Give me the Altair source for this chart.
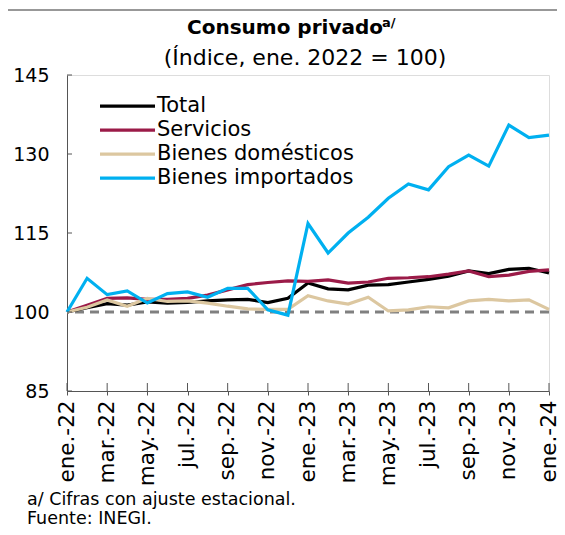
import altair as alt
import pandas as pd

months = ["ene.-22", "feb.-22", "mar.-22", "abr.-22", "may.-22", "jun.-22", "jul.-22", "ago.-22",
          "sep.-22", "oct.-22", "nov.-22", "dic.-22", "ene.-23", "feb.-23", "mar.-23", "abr.-23",
          "may.-23", "jun.-23", "jul.-23", "ago.-23", "sep.-23", "oct.-23", "nov.-23", "dic.-23",
          "ene.-24"]

total = [100, 100.8, 101.6, 101.3, 101.9, 101.7, 101.8, 102.1, 102.3, 102.4, 101.8, 102.6,
         105.5, 104.4, 104.2, 105.1, 105.2, 105.7, 106.2, 106.8, 107.8, 107.3, 108.1, 108.3, 107.4]
servicios = [100, 101.3, 102.6, 102.7, 102.4, 102.4, 102.6, 103.2, 104.2, 105.2, 105.6, 105.9,
             105.8, 106.1, 105.5, 105.7, 106.4, 106.5, 106.7, 107.2, 107.8, 106.7, 107.0, 107.7, 108.0]
domesticos = [100, 100.9, 102.3, 101.1, 102.6, 102.0, 102.1, 101.7, 101.1, 100.6, 100.5, 100.5,
              103.1, 102.1, 101.5, 102.8, 100.2, 100.4, 101.0, 100.8, 102.1, 102.4, 102.1, 102.3, 100.5]
importados = [100, 106.4, 103.3, 104.0, 101.7, 103.5, 103.8, 102.8, 104.5, 104.5, 100.4, 99.4,
              116.8, 111.2, 115.0, 118.0, 121.6, 124.3, 123.2, 127.6, 129.8, 127.7, 135.5, 133.1, 133.6]

series_names = ["Total", "Servicios", "Bienes domésticos", "Bienes importados"]
series_colors = ["#000000", "#9B1B48", "#DCC7A0", "#00B0F0"]
y_ticks = [85, 100, 115, 130, 145]
x_ticks = months[::2]
baseline = [100]

title_main = "Consumo privado"
title_sup = "a/"
subtitle = "(Índice, ene. 2022 = 100)"
notes = ["a/ Cifras con ajuste estacional.", "Fuente: INEGI."]

FONT = "DejaVu Sans"

rows = []
for name, vals in zip(series_names, [total, servicios, domesticos, importados]):
    for m, v in zip(months, vals):
        rows.append({"mes": m, "serie": name, "valor": v})
df = pd.DataFrame(rows)

W, H = 482, 316

xscale = alt.Scale(type="point", padding=0, domain=months)
yscale = alt.Scale(domain=[85, 145], nice=False, zero=False)
cscale = alt.Scale(domain=series_names, range=series_colors)

xaxis = alt.Axis(values=x_ticks, labelAngle=-90, labelFontSize=21.5, labelFont=FONT,
                 labelColor="#000", title=None, tickSize=4, tickColor="#555",
                 domainColor="#555", labelPadding=5, labelAlign="right",
                 labelBaseline="middle")
yaxis = alt.Axis(values=y_ticks, labelFontSize=19, labelFont=FONT, labelColor="#000",
                 title=None, tickSize=0, domainColor="#555", labelPadding=18, grid=False)

layers = []

# dashed 100 line
layers.append(
    alt.Chart(pd.DataFrame({"v": baseline})).mark_rule(
        color="#808080", strokeWidth=3, strokeDash=[9, 6]
    ).encode(y=alt.Y("v:Q", scale=yscale, axis=yaxis))
)

for s in series_names:
    layers.append(
        alt.Chart(df).mark_line(strokeWidth=3.2, clip=False)
        .transform_filter(alt.datum.serie == s)
        .encode(
            x=alt.X("mes:O", scale=xscale, sort=months, axis=xaxis),
            y=alt.Y("valor:Q", scale=yscale, axis=yaxis),
            color=alt.Color("serie:N", scale=cscale, legend=None),
        )
    )

# legend (built from the series list; rows placed in data units of the y scale)
leg = pd.DataFrame({"serie": series_names, "idx": list(range(len(series_names)))})
leg_top = 139.1   # value level of first legend row
leg_step = 4.56   # value step between rows
leg_base = alt.Chart(leg).transform_calculate(py=f"{leg_top} - {leg_step} * datum.idx")
layers.append(
    leg_base.mark_rule(strokeWidth=3.2).encode(
        x=alt.value(33), x2=alt.value(88),
        y=alt.Y("py:Q", scale=yscale, axis=yaxis),
        color=alt.Color("serie:N", scale=cscale, legend=None),
    )
)
layers.append(
    leg_base.mark_text(font=FONT, fontSize=21, align="left", baseline="middle", color="#000")
    .encode(x=alt.value(90), y=alt.Y("py:Q", scale=yscale, axis=yaxis), text="serie:N")
)

# inward y ticks
layers.append(
    alt.Chart(pd.DataFrame({"v": y_ticks})).mark_rule(color="#555", strokeWidth=1).encode(
        y=alt.Y("v:Q", scale=yscale, axis=yaxis), x=alt.value(0), x2=alt.value(5)
    )
)
# inward part of x ticks
layers.append(
    alt.Chart(pd.DataFrame({"m": x_ticks})).mark_rule(color="#555", strokeWidth=1).encode(
        x=alt.X("m:O", scale=xscale, axis=xaxis), y=alt.value(H - 8), y2=alt.value(H)
    )
)

# titles
txt = pd.DataFrame({"t": [0]})
layers.append(alt.Chart(txt).mark_text(text=title_main, font=FONT, fontSize=20, fontWeight="bold",
                                      align="center", baseline="middle", color="#000")
              .encode(x=alt.value(218), y=alt.value(-47)))
layers.append(alt.Chart(txt).mark_text(text=title_sup, font=FONT, fontSize=13, fontWeight="bold",
                                      align="left", baseline="middle", color="#000")
              .encode(x=alt.value(315), y=alt.value(-52)))
layers.append(alt.Chart(txt).mark_text(text=subtitle, font=FONT, fontSize=22,
                                      align="center", baseline="middle", color="#000")
              .encode(x=alt.value(238), y=alt.value(-17)))
for j, n in enumerate(notes):
    layers.append(alt.Chart(txt).mark_text(text=n, font=FONT, fontSize=17.5,
                                          align="left", baseline="middle", color="#000")
                  .encode(x=alt.value(-40), y=alt.value(425 + 19 * j)))

# outer frame
layers.append(alt.Chart(txt).mark_rect(filled=False, stroke="#333", strokeWidth=1.2, clip=False)
              .encode(x=alt.value(-62), y=alt.value(-65), x2=alt.value(700), y2=alt.value(700)))

chart = alt.layer(*layers).properties(
    width=W, height=H,
    autosize=alt.AutoSizeParams(type="none"),
    padding={"left": 59, "top": 67, "right": 8, "bottom": 136},
).configure_view(stroke=None).configure(background="white")

chart.save("out.html", embed_options={"renderer": "svg", "actions": False})
